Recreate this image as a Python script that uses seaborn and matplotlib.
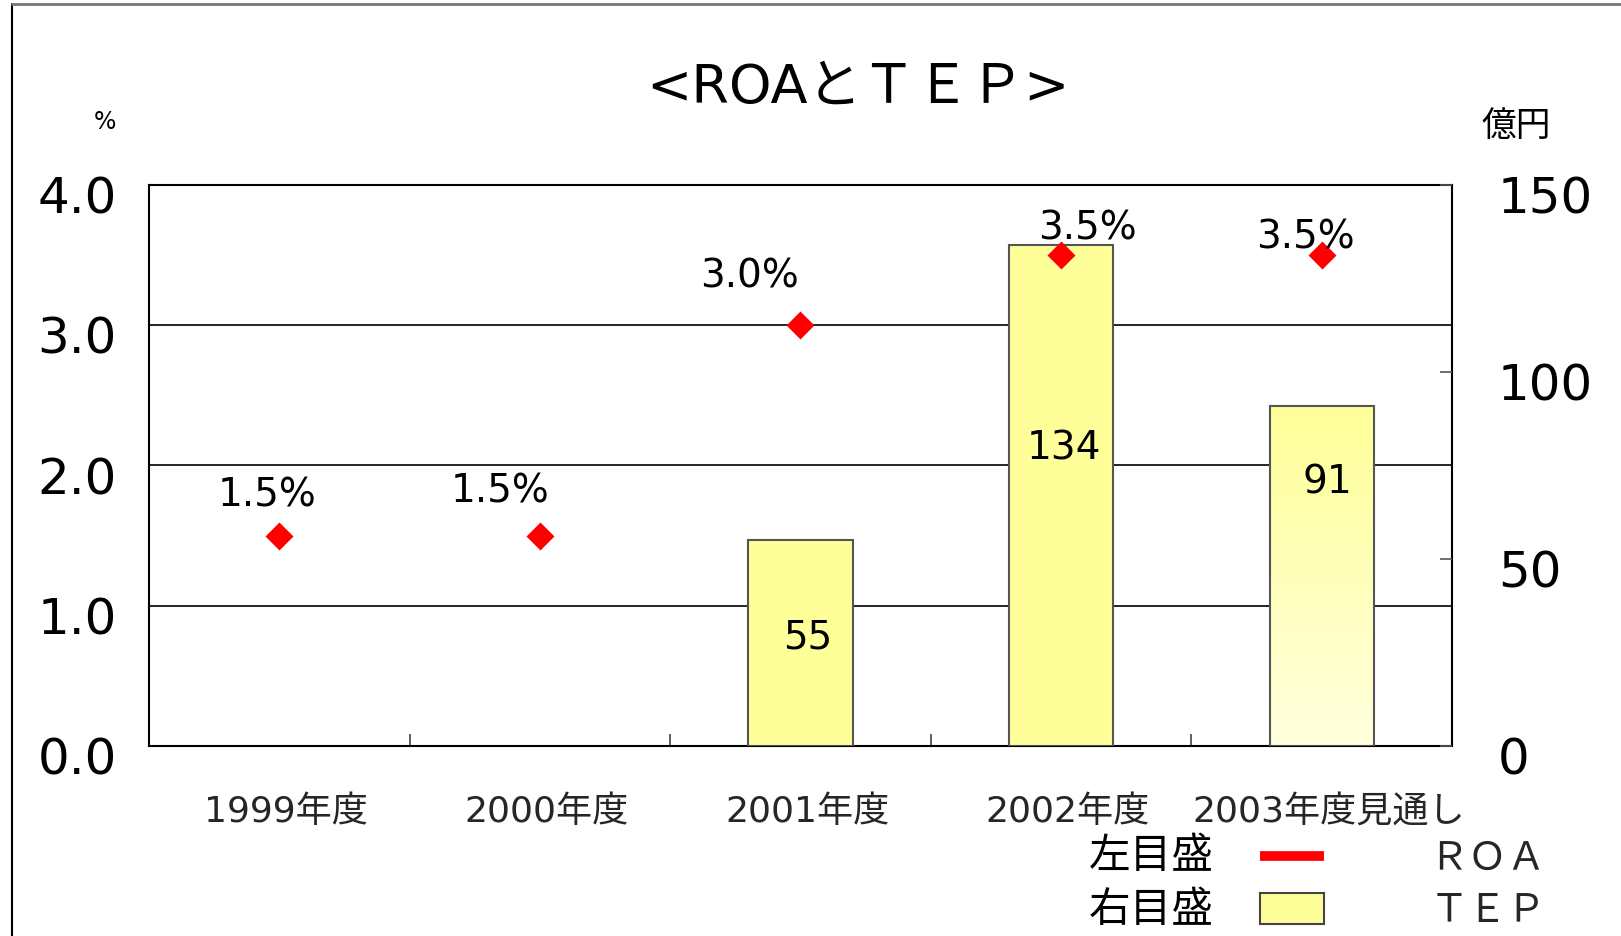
import numpy as np
import matplotlib
matplotlib.use("Agg")
import matplotlib.pyplot as plt
import matplotlib.transforms as mtransforms
from matplotlib.lines import Line2D
from matplotlib.patches import Patch
from matplotlib.colors import LinearSegmentedColormap
import seaborn as sns

# ---------------- data ----------------
categories = ["1999年度", "2000年度", "2001年度", "2002年度", "2003年度見通し"]
roa = [1.5, 1.5, 3.0, 3.5, 3.5]
roa_labels = ["1.5%", "1.5%", "3.0%", "3.5%", "3.5%"]
tep = [np.nan, np.nan, 55, 134, 91]
tep_labels = ["", "", "55", "134", "91"]
left_ticks = [0.0, 1.0, 2.0, 3.0, 4.0]
right_ticks = [0, 50, 100, 150]

# label offsets (points) relative to the marks
roa_offsets = [(-9, 29), (-29, 32), (-37, 35), (19, 19), (-12, 13)]
tep_offsets = [None, None, (5, -70), (2, -147), (4, -55)]

sns.set_theme(style="white")
plt.rcParams['font.family'] = ['DejaVu Sans', 'Noto Sans CJK JP']

fig = plt.figure(figsize=(16.21, 9.36), dpi=100)
ax = fig.add_axes([0.0919, 0.2030, 0.8038, 0.5994])
ax2 = ax.twinx()
ax3 = ax.twinx()
ax.set_zorder(1)
ax2.set_zorder(2)
ax3.set_zorder(3)
ax2.patch.set_visible(False)
ax3.patch.set_visible(False)

# bars (right scale)
sns.barplot(x=categories, y=tep, order=categories, ax=ax2, color="#FFFF99",
            width=0.4, edgecolor="#555555", linewidth=1.5, saturation=1,
            errorbar=None)

# gradient on forecast bar
last = ax2.patches[-1]
bb = last.get_bbox()
grad = np.linspace(0, 1, 256).reshape(-1, 1)
cmap = LinearSegmentedColormap.from_list("yg", ["#FFFFDD", "#FFFF99"])
last.set_facecolor("none")
img = ax2.imshow(grad, extent=[bb.x0, bb.x1, bb.y0, bb.y1], origin="lower",
                 cmap=cmap, aspect="auto", zorder=last.get_zorder() - 0.1)
img.set_clip_path(last)

# diamonds (left scale)
sns.pointplot(x=categories, y=roa, order=categories, ax=ax3, color="red",
              markers="D", linestyle="none", errorbar=None, markersize=12.5)

ax.set_xlim(-0.5, len(categories) - 0.5)
ax.set_ylim(0, 4)
ax2.set_ylim(0, 150)
ax3.set_ylim(0, 4)
for a in (ax, ax2, ax3):
    a.set_xlabel("")
    a.set_ylabel("")

# labels
for i, (v, lab, off) in enumerate(zip(roa, roa_labels, roa_offsets)):
    ax3.annotate(lab, (i, v), xytext=off, textcoords="offset points",
                 ha="center", va="center", fontsize=28, color="black")
for i, (v, lab, off) in enumerate(zip(tep, tep_labels, tep_offsets)):
    if off is None or np.isnan(v):
        continue
    ax2.annotate(lab, (i, v), xytext=off, textcoords="offset points",
                 ha="center", va="center", fontsize=28, color="black")

# axes styling
ax.set_yticks(left_ticks)
ax.set_yticklabels([f"{t:.1f}" for t in left_ticks])
ax.yaxis.grid(True, color="black", linewidth=1.2)
ax.xaxis.grid(False)
ax.tick_params(axis="y", length=0, labelsize=36, pad=23, colors="black")
ax.set_xticks(range(len(categories)))
ax.set_xticklabels(categories)
ax.set_xticks(np.arange(len(categories) - 1) + 0.5, minor=True)
ax.tick_params(axis="x", which="major", length=0, labelsize=26, pad=35)
ax.tick_params(axis="x", which="minor", direction="in", length=9,
               width=1.2, color="#444444", bottom=True)

ax2.set_yticks(right_ticks)
ax2.set_yticklabels([str(t) for t in right_ticks])
ax2.tick_params(axis="y", direction="in", length=9, width=1.2,
                color="#555555", labelsize=36, pad=33, labelcolor="black")
ax2.grid(False)
ax3.set_yticks([])
ax3.grid(False)
ax3.tick_params(left=False, right=False, labelleft=False, labelright=False)
for a in (ax2, ax3):
    a.tick_params(axis="x", bottom=False, labelbottom=False)

for s in ax.spines.values():
    s.set_color("black")
    s.set_linewidth(1.5)
for a in (ax2, ax3):
    for s in a.spines.values():
        s.set_visible(False)

# shift y tick labels down a bit
off = mtransforms.ScaledTranslation(0, -7 / 72, fig.dpi_scale_trans)
for lab in ax.get_yticklabels() + ax2.get_yticklabels():
    lab.set_transform(lab.get_transform() + off)
offx = mtransforms.ScaledTranslation(5 / 72, 0, fig.dpi_scale_trans)
for lab in ax.get_xticklabels():
    lab.set_transform(lab.get_transform() + offx)

# titles / units
fig.text(858 / 1621, 1 - 88 / 936, "<ROAとＴＥＰ>", ha="center", va="center",
         fontsize=39, color="black")
fig.text(105 / 1621, 1 - 122 / 936, "%", ha="center", va="center",
         fontsize=17, color="black")
fig.text(1516 / 1621, 1 - 127 / 936, "億円", ha="center", va="center",
         fontsize=25, color="black")

# legend
fig.text(1151 / 1621, 1 - 856 / 936, "左目盛", ha="center", va="center",
         fontsize=30, color="black")
fig.text(1151 / 1621, 1 - 910 / 936, "右目盛", ha="center", va="center",
         fontsize=30, color="black")
handles = [Line2D([], [], color="red", linewidth=7, solid_capstyle="butt"),
           Patch(facecolor="#FFFF99", edgecolor="#444444", linewidth=1.5)]
fig.legend(handles=handles, labels=["ＲＯＡ", "ＴＥＰ"], loc="center left",
           bbox_to_anchor=(1260 / 1621, 1 - 885 / 936), frameon=False,
           fontsize=28, handlelength=1.65, handleheight=0.85,
           handletextpad=2.7, labelspacing=0.35, borderpad=0, borderaxespad=0)

# figure border lines
fig.add_artist(Line2D([12 / 1621, 12 / 1621], [0, 1 - 4 / 936], color="black",
                      linewidth=1.5, transform=fig.transFigure))
fig.add_artist(Line2D([12 / 1621, 1], [1 - 4 / 936, 1 - 4 / 936], color="#777777",
                      linewidth=2, transform=fig.transFigure))

fig.savefig("out.png", dpi=100, facecolor="white")
